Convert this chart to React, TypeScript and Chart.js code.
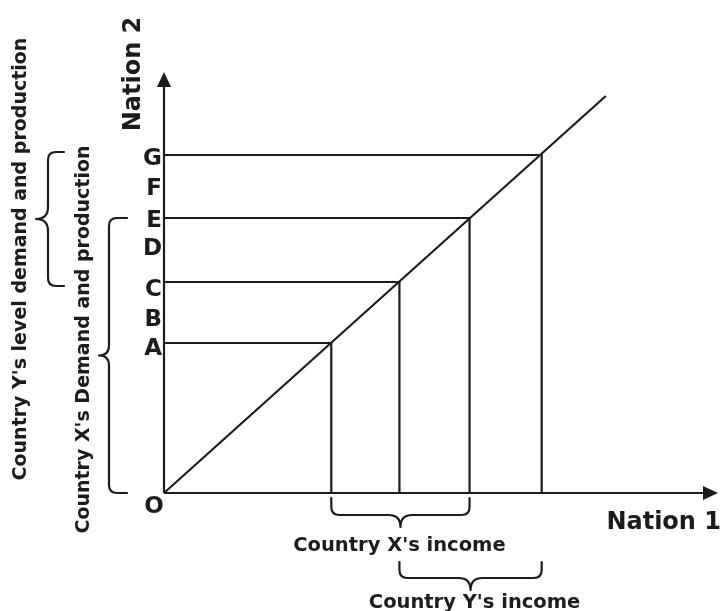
import React, { useEffect, useRef } from 'react';
import { Chart, registerables } from 'chart.js';

Chart.register(...registerables);

// Points on the 45° line (Nation 1 income -> Nation 2 output)
const pointNames = ['A', 'C', 'E', 'G'];
const incomeX = [16.7, 23.5, 30.5, 37.7];
const outputY = [15.0, 21.1, 27.5, 33.8];

// Letter tick labels on the vertical axis
const tickLetters = ['A', 'B', 'C', 'D', 'E', 'F', 'G'];
const tickValues = [14.35, 17.25, 20.25, 24.35, 27.15, 30.35, 33.35];

// Diagonal line end points
const diagonalX = [0, 44.1];
const diagonalY = [0, 39.7];

const xAxisMax = 55.3;
const yAxisMax = 42.1;

const xAxisTitle = 'Nation 1';
const yAxisTitle = 'Nation 2';
const originLabel = 'O';
const yLevelText = "Country Y's level demand and production";
const xDemandText = "Country X's Demand and production";
const xIncomeText = "Country X's income";
const yIncomeText = "Country Y's income";

const INK = '#1c1c1c';
const FONT = '"DejaVu Sans", Verdana, sans-serif';

function drawBrace(ctx: CanvasRenderingContext2D, ax: number, ay: number, bx: number, by: number, h: number, t: number, r: number) {
  const L = Math.hypot(bx - ax, by - ay);
  const ang = Math.atan2(by - ay, bx - ax);
  ctx.save();
  ctx.translate(ax, ay);
  ctx.rotate(ang);
  ctx.beginPath();
  ctx.moveTo(0, 0);
  ctx.lineTo(0, h - r);
  ctx.quadraticCurveTo(0, h, r, h);
  ctx.lineTo(L / 2 - t, h);
  ctx.quadraticCurveTo(L / 2, h, L / 2, h + t);
  ctx.quadraticCurveTo(L / 2, h, L / 2 + t, h);
  ctx.lineTo(L - r, h);
  ctx.quadraticCurveTo(L, h, L, h - r);
  ctx.lineTo(L, 0);
  ctx.strokeStyle = INK;
  ctx.lineWidth = 2.2;
  ctx.lineJoin = 'round';
  ctx.lineCap = 'round';
  ctx.stroke();
  ctx.restore();
}

function text(ctx: CanvasRenderingContext2D, s: string, x: number, y: number, size: number, rot = 0) {
  ctx.save();
  ctx.translate(x, y);
  if (rot) ctx.rotate(rot);
  ctx.font = `bold ${size}px ${FONT}`;
  ctx.fillStyle = INK;
  ctx.textAlign = 'center';
  ctx.textBaseline = 'middle';
  ctx.fillText(s, 0, 0);
  ctx.restore();
}

const decorPlugin = {
  id: 'decor',
  afterDatasetsDraw(chart: any) {
    const ctx: CanvasRenderingContext2D = chart.ctx;
    const xs = chart.scales.x;
    const ys = chart.scales.y;
    const ox = xs.getPixelForValue(0);
    const oy = ys.getPixelForValue(0);
    const top = ys.getPixelForValue(yAxisMax);
    const right = xs.getPixelForValue(xAxisMax);

    // arrowheads
    ctx.save();
    ctx.fillStyle = INK;
    ctx.beginPath();
    ctx.moveTo(ox, top);
    ctx.lineTo(ox - 7, top + 15);
    ctx.lineTo(ox + 7, top + 15);
    ctx.closePath();
    ctx.fill();
    ctx.beginPath();
    ctx.moveTo(right, oy);
    ctx.lineTo(right - 15, oy - 7);
    ctx.lineTo(right - 15, oy + 7);
    ctx.closePath();
    ctx.fill();
    ctx.restore();

    // axis titles and origin
    text(ctx, originLabel, ox - 10, oy + 14, 23);
    ctx.save();
    ctx.font = `bold 24px ${FONT}`;
    ctx.fillStyle = INK;
    ctx.textAlign = 'right';
    ctx.textBaseline = 'middle';
    ctx.fillText(xAxisTitle, right + 3, oy + 30);
    ctx.restore();
    text(ctx, yAxisTitle, ox - 30, top + 2, 24, -Math.PI / 2);

    // left braces
    const yG = ys.getPixelForValue(outputY[3]);
    const yC = ys.getPixelForValue(outputY[1]);
    const yE = ys.getPixelForValue(outputY[2]);
    drawBrace(ctx, ox - 100, yG - 3, ox - 100, yC + 4, 16, 12, 8);
    drawBrace(ctx, ox - 37, yE, ox - 37, oy, 18, 10, 8);
    text(ctx, yLevelText, ox - 143, (yG + oy) / 2 - 65, 19, -Math.PI / 2);
    text(ctx, xDemandText, ox - 80, (yE + oy) / 2 - 16, 19, -Math.PI / 2);

    // bottom braces
    const xA = xs.getPixelForValue(incomeX[0]);
    const xC = xs.getPixelForValue(incomeX[1]);
    const xE = xs.getPixelForValue(incomeX[2]);
    const xG = xs.getPixelForValue(incomeX[3]);
    drawBrace(ctx, xA, oy + 5, xE, oy + 5, 17, 12, 8);
    drawBrace(ctx, xC, oy + 69, xG, oy + 69, 16, 12, 8);
    text(ctx, xIncomeText, (xA + xE) / 2 - 1, oy + 53, 19.5);
    text(ctx, yIncomeText, (xC + xG) / 2 + 4, oy + 110, 19.5);
  },
};

export default function App() {
  const ref = useRef<HTMLCanvasElement>(null);
  useEffect(() => {
    if (!ref.current) return;
    const lineStyle = {
      showLine: true,
      borderColor: INK,
      borderWidth: 2.2,
      pointRadius: 0,
      pointHoverRadius: 0,
      fill: false,
      tension: 0,
      clip: false as any,
    };
    const guides = pointNames.map((name, i) => ({
      ...lineStyle,
      label: name,
      data: [
        { x: 0, y: outputY[i] },
        { x: incomeX[i], y: outputY[i] },
        { x: incomeX[i], y: 0 },
      ],
    }));
    const chart = new Chart(ref.current, {
      type: 'scatter',
      data: {
        datasets: [
          { ...lineStyle, label: 'x-axis', data: [{ x: 0, y: 0 }, { x: xAxisMax - 1, y: 0 }] },
          { ...lineStyle, label: 'y-axis', data: [{ x: 0, y: 0 }, { x: 0, y: yAxisMax - 1 }] },
          {
            ...lineStyle,
            label: 'diagonal',
            data: diagonalX.map((x, i) => ({ x, y: diagonalY[i] })),
          },
          ...guides,
        ],
      },
      options: {
        responsive: false,
        animation: false,
        events: [],
        layout: { padding: { left: 124, top: 72, right: 8, bottom: 118 } },
        plugins: { legend: { display: false }, tooltip: { enabled: false } },
        scales: {
          x: { type: 'linear', min: 0, max: xAxisMax, display: false },
          y: {
            type: 'linear',
            min: 0,
            max: yAxisMax,
            afterFit: (s: any) => {
              s.width = 40;
            },
            afterBuildTicks: (s: any) => {
              s.ticks = tickValues.map((v) => ({ value: v }));
            },
            grid: { display: false, drawTicks: false },
            border: { display: false },
            ticks: {
              padding: 2,
              color: INK,
              font: { family: FONT, size: 23, weight: 'bold' },
              callback: (v: any) => {
                const idx = tickValues.indexOf(Number(v));
                return idx >= 0 ? tickLetters[idx] : '';
              },
            },
          },
        },
      } as any,
      plugins: [decorPlugin],
    });
    return () => chart.destroy();
  }, []);
  return (
    <div style={{ position: 'absolute', left: 0, top: 0, width: 726, height: 611, background: '#fff' }}>
      <canvas ref={ref} width={726} height={611} />
    </div>
  );
}
